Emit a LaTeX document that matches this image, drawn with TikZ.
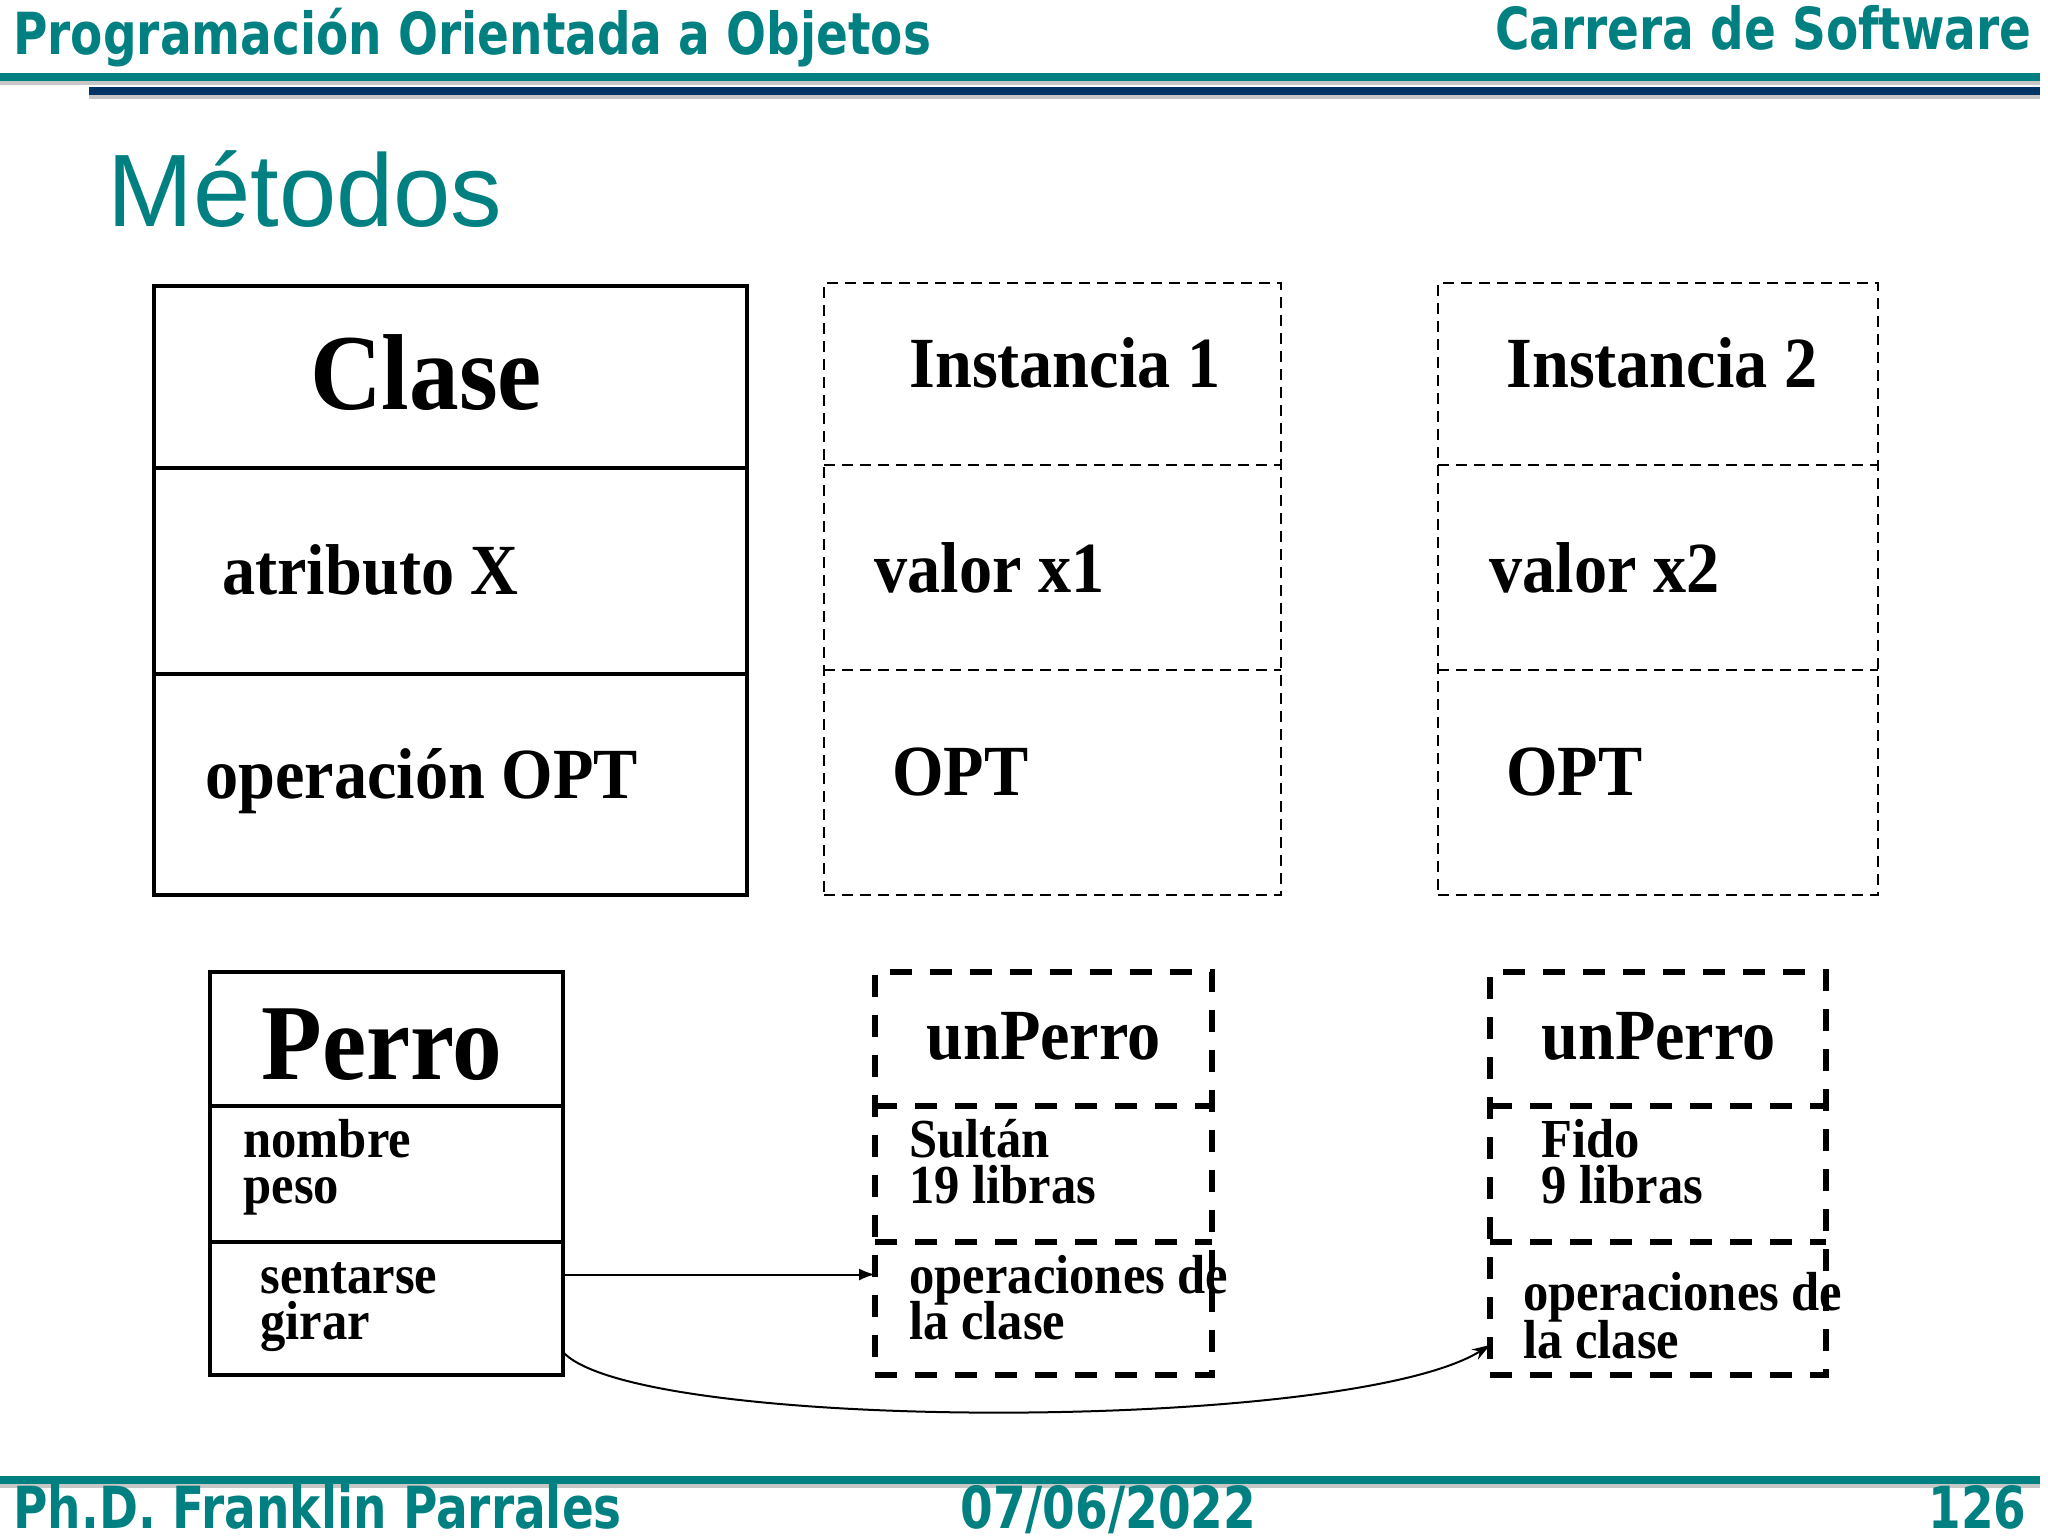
\documentclass[tikz,border=0pt]{standalone}
\usepackage{fontspec}
\setmainfont{Liberation Serif}[FakeStretch=0.92]
\newfontfamily\hdr{DejaVu Sans Bold}[FakeStretch=0.81]
\newfontfamily\arial{Liberation Sans}
\usetikzlibrary{arrows.meta,calc}
\definecolor{teal1}{RGB}{0,128,128}
\definecolor{navy1}{RGB}{0,51,102}
\tikzset{
  solidbox/.style={draw, line width=2.2pt, inner sep=0pt, outer sep=0pt},
  thindash/.style={draw, line width=1.2pt, dash pattern=on 5.5pt off 3.5pt, inner sep=0pt, outer sep=0pt},
  thickdash/.style={draw, line width=3pt, dash pattern=on 11pt off 9pt, inner sep=0pt, outer sep=0pt},
  txt/.style={anchor=base west, inner sep=0pt, font=\bfseries\fontsize{36}{40}\selectfont},
  bigtxt/.style={anchor=base, inner sep=0pt, font=\bfseries\fontsize{54}{60}\selectfont},
  smtxt/.style={anchor=base west, inner sep=0pt, font=\bfseries\fontsize{27.5}{30}\selectfont},
  hdrtxt/.style={inner sep=0pt, text=teal1, font=\hdr\fontsize{29}{34}\selectfont},
  conn/.style={line width=1pt}
}
\begin{document}
\begin{tikzpicture}[x=0.5pt,y=-0.5pt]
\useasboundingbox (0,0) rectangle (2048,1536);
\fill[white] (0,0) rectangle (2048,1536);
% header
\node[hdrtxt, anchor=base west] (htitle) at (13,55) {Programación Orientada a Objetos};
\node[hdrtxt, anchor=base east] (hcar) at (2032,50) {Carrera de Software};
\fill[black!22] (0,81) rectangle (2040,85);
\fill[teal1] (0,73) rectangle (2040,81);
\fill[black!22] (89,95) rectangle (2040,99);
\fill[navy1] (89,87) rectangle (2040,95);
% title
\node[anchor=base west, inner sep=0pt, text=teal1, font=\arial\fontsize{51.5}{56}\selectfont] (title) at (107,226) {Métodos};
% Clase
\node[solidbox, minimum width=296.5pt, minimum height=304.5pt] (clase) at (450.5,590.5) {};
\draw[line width=2.2pt] (clase.west |- 0,468) -- (clase.east |- 0,468);
\draw[line width=2.2pt] (clase.west |- 0,674) -- (clase.east |- 0,674);
\node[bigtxt] (tclase) at (426,409) {Clase};
\node[txt] (tattr) at (222,594) {atributo X};
\node[txt] (topx) at (205,798) {operación OPT};
% Instancia 1
\node[thindash, minimum width=228.5pt, minimum height=306pt] (inst1) at (1052.5,589) {};
\draw[thindash] (inst1.west |- 0,465) -- (inst1.east |- 0,465);
\draw[thindash] (inst1.west |- 0,670) -- (inst1.east |- 0,670);
\node[txt] (ti1) at (909,387) {Instancia 1};
\node[txt] (tv1) at (874,592) {valor x1};
\node[txt] (to1) at (892,795) {OPT};
% Instancia 2
\node[thindash, minimum width=220pt, minimum height=306pt] (inst2) at (1658,589) {};
\draw[thindash] (inst2.west |- 0,465) -- (inst2.east |- 0,465);
\draw[thindash] (inst2.west |- 0,670) -- (inst2.east |- 0,670);
\node[txt] (ti2) at (1506,387) {Instancia 2};
\node[txt] (tv2) at (1489,592) {valor x2};
\node[txt] (to2) at (1506,795) {OPT};
% Perro
\node[solidbox, minimum width=176.5pt, minimum height=201.5pt] (perro) at (386.5,1173.5) {};
\draw[line width=2.2pt] (perro.west |- 0,1106) -- (perro.east |- 0,1106);
\draw[line width=2.2pt] (perro.west |- 0,1242) -- (perro.east |- 0,1242);
\node[bigtxt, anchor=base west] (tperro) at (261,1079) {Perro};
\node[smtxt] (tnom) at (243,1157) {nombre};
\node[smtxt] (tpeso) at (243,1203) {peso};
\node[smtxt] (tsent) at (260,1293) {sentarse};
\node[smtxt] (tgir) at (260,1339) {girar};
% unPerro 1
\node[thickdash, minimum width=168.5pt, minimum height=201.5pt] (obj1) at (1043.5,1173.5) {};
\draw[thickdash] (obj1.west |- 0,1106) -- (obj1.east |- 0,1106);
\draw[thickdash] (obj1.west |- 0,1242) -- (obj1.east |- 0,1242);
\node[txt] (tu1) at (926,1059) {unPerro};
\node[smtxt] (ts1) at (909,1157) {Sultán};
\node[smtxt] (tl1) at (909,1203) {19 libras};
\node[smtxt] (toa1) at (909,1293) {operaciones de};
\node[smtxt] (tob1) at (909,1339) {la clase};
% unPerro 2
\node[thickdash, minimum width=168pt, minimum height=201.5pt] (obj2) at (1658,1173.5) {};
\draw[thickdash] (obj2.west |- 0,1106) -- (obj2.east |- 0,1106);
\draw[thickdash] (obj2.west |- 0,1242) -- (obj2.east |- 0,1242);
\node[txt] (tu2) at (1541,1059) {unPerro};
\node[smtxt] (ts2) at (1541,1157) {Fido};
\node[smtxt] (tl2) at (1541,1203) {9 libras};
\node[smtxt] (toa2) at (1523,1310) {operaciones de};
\node[smtxt] (tob2) at (1523,1358) {la clase};
% connectors
\draw[conn, -{Latex[length=8pt,width=6pt]}] ([yshift=-50.5pt]perro.east) -- ([yshift=-50.5pt]obj1.west);
\draw[conn, -{Stealth[length=9pt,width=6pt]}] ([yshift=-89.25pt]perro.east) .. controls +(74,81) and +(-140,88) .. ([yshift=-85.75pt]obj2.west);
% footer
\fill[black!22] (0,1484) rectangle (2040,1488);
\fill[teal1] (0,1476) rectangle (2040,1484);
\node[hdrtxt, anchor=base west] (fauth) at (13,1528) {Ph.D. Franklin Parrales};
\node[hdrtxt, anchor=base west] (fdate) at (960,1528) {07/06/2022};
\node[hdrtxt, anchor=base east] (fpage) at (2027,1528) {126};
\end{tikzpicture}
\end{document}
